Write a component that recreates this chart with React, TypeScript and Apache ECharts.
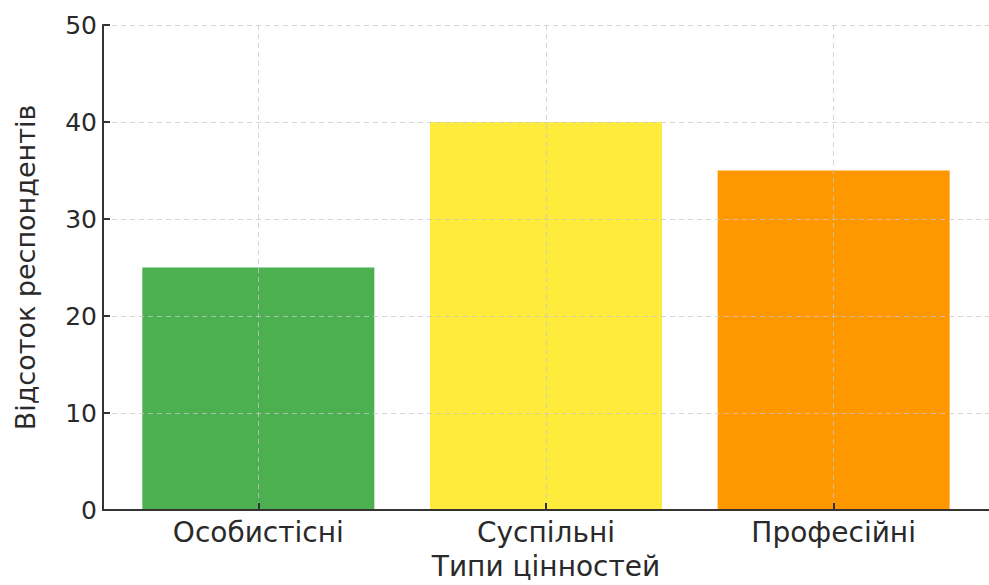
import React, { useEffect, useRef } from "react";
import * as echarts from "echarts";

const categories = ["Особистісні", "Суспільні", "Професійні"];
const values = [25, 40, 35];
const barColors = ["#4CAF50", "#FFEB3B", "#FF9800"];
const yTicks = [0, 10, 20, 30, 40, 50];
const xTitle = "Типи цінностей";
const yTitle = "Відсоток респондентів";

const FONT = "DejaVu Sans";
const TEXT = "#2a2a2a";
const GRID_COLOR = "rgba(200,200,200,0.75)";

export default function App() {
  const ref = useRef<HTMLDivElement>(null);
  useEffect(() => {
    document.body.style.margin = "0";
    document.body.style.overflow = "hidden";
    if (!ref.current) return;
    const chart = echarts.init(ref.current, null, { renderer: "svg" });
    const idx = categories.map((_, i) => i);
    chart.setOption({
      animation: false,
      backgroundColor: "#ffffff",
      grid: { left: 103, top: 25, width: 894, height: 492, containLabel: false },
      xAxis: {
        type: "value",
        min: -0.54,
        max: 2.54,
        name: xTitle,
        nameLocation: "middle",
        nameGap: 42,
        nameTextStyle: { fontFamily: FONT, fontSize: 28, color: TEXT },
        axisLine: { show: true, onZero: false, lineStyle: { color: "#333", width: 2 } },
        axisTick: { show: true, inside: true, length: 7, customValues: idx, lineStyle: { color: "#333", width: 2 } },
        axisLabel: {
          customValues: idx,
          fontFamily: FONT,
          fontSize: 28,
          color: TEXT,
          margin: 8,
          formatter: (v: number) => categories[Math.round(v)] ?? "",
        },
        splitLine: { show: true, lineStyle: { color: GRID_COLOR, type: [5, 4], width: 1 } },
        z: 5,
      },
      yAxis: {
        type: "value",
        min: yTicks[0],
        max: yTicks[yTicks.length - 1],
        interval: 10,
        name: yTitle,
        nameLocation: "middle",
        nameGap: 64,
        nameTextStyle: { fontFamily: FONT, fontSize: 27, color: TEXT },
        axisLine: { show: true, onZero: false, lineStyle: { color: "#333", width: 2 } },
        axisTick: { show: true, inside: true, length: 7, lineStyle: { color: "#333", width: 2 } },
        axisLabel: { fontFamily: FONT, fontSize: 25, color: TEXT, margin: 6 },
        splitLine: { show: true, lineStyle: { color: GRID_COLOR, type: [5, 4], width: 1 } },
        z: 5,
      },
      series: [
        {
          type: "bar",
          barWidth: 232,
          z: 2,
          data: values.map((v, i) => ({ value: [i, v], itemStyle: { color: barColors[i] } })),
        },
      ],
    });
    return () => chart.dispose();
  }, []);
  return <div ref={ref} style={{ width: 989, height: 585 }} />;
}
